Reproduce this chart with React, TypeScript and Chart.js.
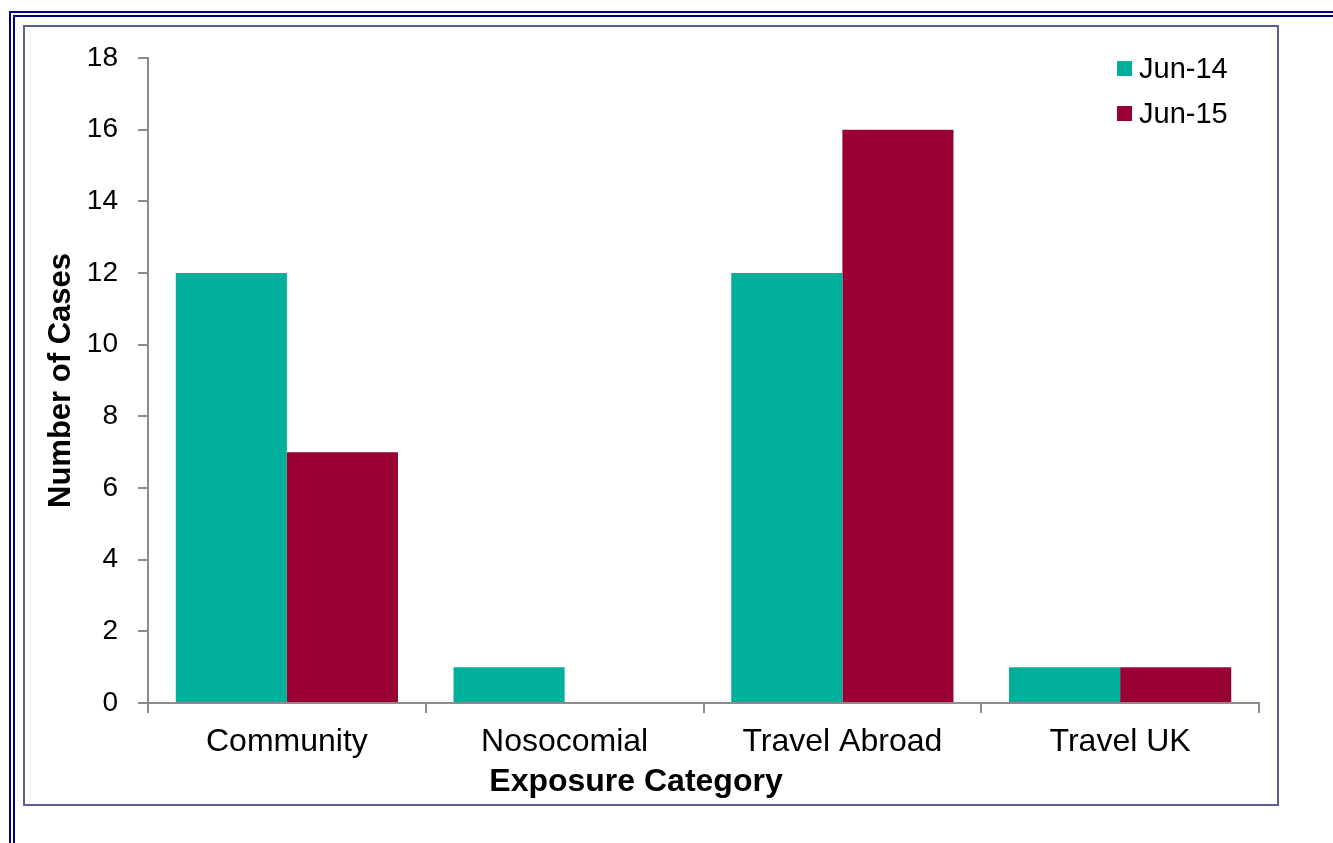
import React, { useEffect, useRef } from "react";
import { Chart, registerables } from "chart.js";

Chart.register(...registerables);

const categories = ["Community", "Nosocomial", "Travel Abroad", "Travel UK"];
const seriesNames = ["Jun-14", "Jun-15"];
const jun14Values = [12, 1, 12, 1];
const jun15Values = [7, 0, 16, 1];
const seriesColors = ["#00B09C", "#990033"];
const yTitle = "Number of Cases";
const xTitle = "Exposure Category";
const yMin = 0;
const yMax = 18;
const yStep = 2;

const FONT = '"Liberation Sans", Arial, Helvetica, sans-serif';

export default function App() {
  const canvasRef = useRef<HTMLCanvasElement | null>(null);

  useEffect(() => {
    if (!canvasRef.current) return;
    const chart = new Chart(canvasRef.current, {
      type: "bar",
      data: {
        labels: categories,
        datasets: [
          {
            label: seriesNames[0],
            data: jun14Values,
            backgroundColor: seriesColors[0],
            borderWidth: 0,
            categoryPercentage: 0.8,
            barPercentage: 1.0,
          },
          {
            label: seriesNames[1],
            data: jun15Values,
            backgroundColor: seriesColors[1],
            borderWidth: 0,
            categoryPercentage: 0.8,
            barPercentage: 1.0,
          },
        ],
      },
      options: {
        animation: false,
        responsive: true,
        maintainAspectRatio: false,
        devicePixelRatio: 1,
        layout: { padding: { top: 33, right: 20, left: 0, bottom: 0 } },
        plugins: {
          legend: { display: false },
          tooltip: { enabled: false },
        },
        scales: {
          x: {
            grid: {
              display: true,
              drawOnChartArea: false,
              drawTicks: true,
              tickLength: 10,
              offset: true,
              color: "#8c8c8c",
              lineWidth: 2,
            },
            border: { display: true, color: "#8c8c8c", width: 2 },
            ticks: {
              color: "#000",
              font: { family: FONT, size: 32 },
              padding: 10,
              maxRotation: 0,
              autoSkip: false,
            },
            afterFit: (scale: any) => {
              scale.height = 102;
            },
          },
          y: {
            min: yMin,
            max: yMax,
            grid: {
              display: true,
              drawOnChartArea: false,
              drawTicks: true,
              tickLength: 10,
              color: "#8c8c8c",
              lineWidth: 2,
            },
            border: { display: true, color: "#8c8c8c", width: 2 },
            ticks: {
              stepSize: yStep,
              color: "#000",
              font: { family: FONT, size: 28 },
              padding: 20,
            },
            title: {
              display: true,
              text: yTitle,
              color: "#000",
              font: { family: FONT, size: 31, weight: "bold" },
              padding: { top: 20, bottom: 0 },
            },
            afterFit: (scale: any) => {
              scale.width = 125;
              scale.paddingTop = 0;
              scale.paddingBottom = 0;
            },
          },
        },
      },
    });
    return () => chart.destroy();
  }, []);

  return (
    <div
      style={{
        position: "absolute",
        left: 0,
        top: 0,
        width: 1333,
        height: 843,
        overflow: "hidden",
        background: "#fff",
        fontFamily: FONT,
      }}
    >
      <div
        style={{
          position: "absolute",
          left: 9,
          top: 11,
          width: 1400,
          height: 900,
          borderLeft: "6px double #000080",
          borderTop: "6px double #000080",
          boxSizing: "border-box",
        }}
      />
      <div
        style={{
          position: "absolute",
          left: 23,
          top: 25,
          width: 1256,
          height: 781,
          border: "2px solid #5d6097",
          boxSizing: "border-box",
        }}
      />
      <div
        style={{
          position: "absolute",
          left: 23,
          top: 25,
          width: 1256,
          height: 780,
        }}
      >
        <canvas ref={canvasRef} />
      </div>
      <div
        style={{
          position: "absolute",
          left: 636,
          top: 764,
          transform: "translateX(-50%)",
          whiteSpace: "nowrap",
          fontSize: 32,
          lineHeight: "32px",
          fontWeight: "bold",
          color: "#000",
        }}
      >
        {xTitle}
      </div>
      {seriesNames.map((name, i) => (
        <div
          key={name}
          style={{
            position: "absolute",
            left: 1117,
            top: 53 + i * 45,
            height: 30,
            display: "flex",
            alignItems: "center",
            whiteSpace: "nowrap",
          }}
        >
          <span
            style={{
              display: "inline-block",
              width: 15,
              height: 15,
              background: seriesColors[i],
              marginRight: 7,
            }}
          />
          <span style={{ fontSize: 29, lineHeight: "30px", color: "#000" }}>{name}</span>
        </div>
      ))}
    </div>
  );
}
